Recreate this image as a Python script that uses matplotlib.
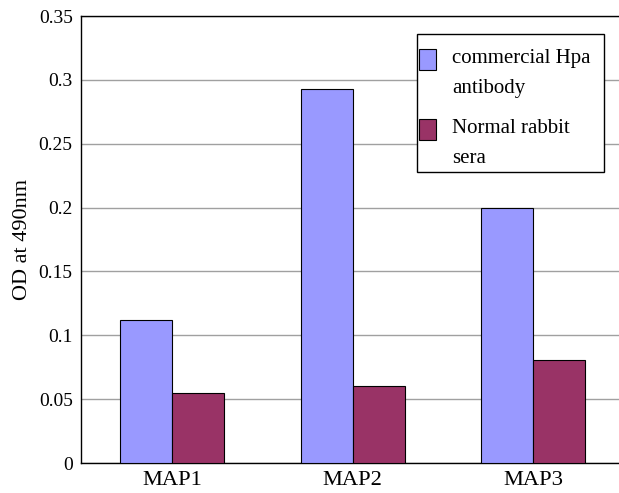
import numpy as np
import matplotlib
matplotlib.use("Agg")
import matplotlib.pyplot as plt
import matplotlib.transforms as mtransforms
from matplotlib.patches import Rectangle
from matplotlib.legend_handler import HandlerPatch

plt.rcParams['font.family'] = ['Liberation Serif', 'DejaVu Serif']

# data
categories = ['MAP1', 'MAP2', 'MAP3']
hpa_antibody = [0.112, 0.293, 0.200]
rabbit_sera = [0.055, 0.060, 0.081]
series_labels = ['commercial Hpa\nantibody', 'Normal rabbit\nsera']
yticks = [0, 0.05, 0.1, 0.15, 0.2, 0.25, 0.3, 0.35]
ytick_labels = ['0', '0.05', '0.1', '0.15', '0.2', '0.25', '0.3', '0.35']

BLUE = '#9999ff'
PLUM = '#993366'


def top_square(legend, orig_handle, xdescent, ydescent, width, height, fontsize):
    # square sits next to the first line of the label, close to the frame
    h = 1.0 * fontsize
    return Rectangle((-xdescent - 0.34 * fontsize, -ydescent + height - h - 0.05 * fontsize),
                     width, h)


fig = plt.figure(figsize=(6.19, 4.93), dpi=100)
ax = fig.add_axes([81 / 619, 30 / 493, 1 - 81 / 619, 447 / 493])

x = np.arange(len(categories))
w = 0.288
b1 = ax.bar(x - w / 2, hpa_antibody, w, color=BLUE, edgecolor='black', linewidth=0.8,
            label=series_labels[0], zorder=3)
b2 = ax.bar(x + w / 2, rabbit_sera, w, color=PLUM, edgecolor='black', linewidth=0.8,
            label=series_labels[1], zorder=3)

ax.set_xlim(-0.504, 2.476)
ax.set_ylim(0, 0.35)
ax.set_yticks(yticks)
ax.set_yticklabels(ytick_labels)
ax.set_xticks(x)
ax.set_xticklabels(categories)
ax.tick_params(axis='both', length=0, labelsize=14)
ax.tick_params(axis='x', labelsize=16.2, pad=6)
ax.tick_params(axis='y', pad=6)
ax.yaxis.grid(True, color='#a0a0a0', linewidth=1, zorder=0)
ax.set_axisbelow(True)
ax.spines['right'].set_visible(False)
for s in ['left', 'bottom', 'top']:
    ax.spines[s].set_linewidth(1)
ax.set_ylabel('OD at 490nm', fontsize=16, labelpad=5)

leg = ax.legend(handles=[b1.patches[0], b2.patches[0]], labels=series_labels,
                loc='upper right', bbox_to_anchor=(0.972, 0.96),
                fontsize=15, frameon=True, fancybox=False, edgecolor='black',
                framealpha=1, handlelength=0.82, handleheight=2.6, handletextpad=0.6,
                labelspacing=1.0, borderpad=0.45, borderaxespad=0,
                handler_map={Rectangle: HandlerPatch(patch_func=top_square)})
leg.get_frame().set_linewidth(1)
for t in leg.get_texts():
    t.set_linespacing(1.8)
    # nudge label text down and left a little
    t.set_transform(t.get_transform() + mtransforms.Affine2D().translate(-4, -6))

fig.savefig('out.png', dpi=100)
